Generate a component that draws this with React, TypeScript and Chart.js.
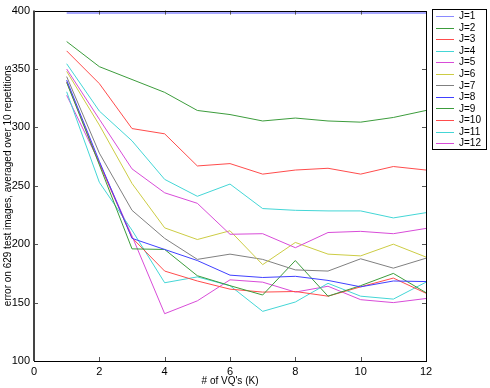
import React, { useEffect, useRef } from "react";
import { Chart, registerables } from "chart.js";

Chart.register(...registerables);

const kValues = [1, 2, 3, 4, 5, 6, 7, 8, 9, 10, 11, 12];
const seriesLabels = ["J=1", "J=2", "J=3", "J=4", "J=5", "J=6", "J=7", "J=8", "J=9", "J=10", "J=11", "J=12"];
const j1 = [398, 398, 398, 398, 398, 398, 398, 398, 398, 398, 398, 398];
const j2 = [373.5, 352, 341, 330, 314.5, 311, 305.5, 308, 305.5, 304.5, 308.5, 314.5];
const j3 = [365.5, 337.5, 299, 294.5, 267, 269, 260, 263.5, 265, 260, 266.5, 263.5];
const j4 = [354.5, 314, 288.5, 255.5, 241, 251.5, 230.5, 229, 228.5, 228.5, 222.5, 227];
const j5 = [350, 307, 264.5, 244, 235, 208.5, 209, 197, 210, 211, 209, 213.5];
const j6 = [348, 302, 252, 214, 204, 211.5, 182.5, 201.5, 191.5, 190, 200, 189];
const j7 = [343.5, 278, 229, 205, 187, 191.5, 187, 178, 177, 187.5, 179.5, 188];
const j8 = [340.5, 271, 205, 195.5, 186, 173.5, 171.5, 172.5, 169, 163.5, 168.5, 168];
const j9 = [338.5, 268, 196, 195.5, 173, 164.5, 156.5, 186, 155.5, 164.5, 175, 158.5];
const j10 = [339, 269, 205.5, 177, 168.5, 161.5, 159, 159.5, 155.5, 163.5, 171, 158];
const j11 = [330.5, 253, 212, 167, 172, 164.5, 142.5, 150.5, 166.5, 155.5, 153, 167.5];
const j12 = [327.5, 270, 207, 140.5, 151.5, 169.5, 167.5, 159, 164, 152.5, 150, 153.5];
const seriesValues = [j1, j2, j3, j4, j5, j6, j7, j8, j9, j10, j11, j12];
const xTicks = [0, 2, 4, 6, 8, 10, 12];
const yTicks = [100, 150, 200, 250, 300, 350, 400];

const seriesColors = [
  "#8a8aff", "#3c9c3c", "#ff4c4c", "#44d6d6", "#d84cd8", "#cccc44",
  "#808080", "#4040ff", "#3c9c3c", "#ff4c4c", "#44d6d6", "#d84cd8",
];
const FONT = "'Liberation Sans', Arial, Helvetica, sans-serif";

const framePlugin = {
  id: "frame",
  afterDatasetsDraw(chart: any) {
    const { ctx, chartArea: a, scales } = chart;
    const xs = scales.x;
    const ys = scales.y;
    ctx.save();
    ctx.strokeStyle = "#555";
    ctx.lineWidth = 1;
    ctx.beginPath();
    xTicks.forEach((v) => {
      if (v === 0 || v === 12) return;
      const px = Math.round(xs.getPixelForValue(v)) + 0.5;
      ctx.moveTo(px, a.bottom);
      ctx.lineTo(px, a.bottom - 4);
      ctx.moveTo(px, a.top);
      ctx.lineTo(px, a.top + 4);
    });
    yTicks.forEach((v) => {
      if (v === 100 || v === 400) return;
      const py = Math.round(ys.getPixelForValue(v)) + 0.5;
      ctx.moveTo(a.left, py);
      ctx.lineTo(a.left + 4, py);
      ctx.moveTo(a.right, py);
      ctx.lineTo(a.right - 4, py);
    });
    ctx.stroke();
    ctx.strokeStyle = "#000";
    ctx.strokeRect(Math.round(a.left) + 0.5, Math.round(a.top) + 0.5, Math.round(a.right - a.left), Math.round(a.bottom - a.top));
    ctx.strokeStyle = "#444";
    ctx.lineWidth = 2;
    ctx.beginPath();
    ctx.moveTo(Math.round(a.left), a.top);
    ctx.lineTo(Math.round(a.left), a.bottom);
    ctx.stroke();

    // legend
    const lx = 432, ly = 9, lw = 54, lh = 140;
    ctx.fillStyle = "#fff";
    ctx.fillRect(lx, ly, lw, lh);
    ctx.strokeStyle = "#000";
    ctx.lineWidth = 1;
    ctx.strokeRect(lx + 0.5, ly + 0.5, lw, lh);
    ctx.font = `10px ${FONT}`;
    ctx.textBaseline = "middle";
    ctx.textAlign = "left";
    seriesLabels.forEach((label, i) => {
      const y = 16 + i * 11.55;
      ctx.strokeStyle = seriesColors[i];
      ctx.lineWidth = 1;
      ctx.beginPath();
      ctx.moveTo(436, Math.round(y) + 0.5);
      ctx.lineTo(454, Math.round(y) + 0.5);
      ctx.stroke();
      ctx.fillStyle = "#000";
      ctx.fillText(label, 459, y + 0.5);
    });
    ctx.restore();
  },
};

export default function App() {
  const ref = useRef<HTMLCanvasElement>(null);
  useEffect(() => {
    if (!ref.current) return;
    const chart = new Chart(ref.current, {
      type: "line",
      data: {
        datasets: seriesLabels.map((label, i) => ({
          label,
          data: kValues.map((k, j) => ({ x: k, y: seriesValues[i][j] })),
          borderColor: seriesColors[i],
          backgroundColor: seriesColors[i],
          borderWidth: i === 0 ? 1.5 : 1,
          pointRadius: 0,
          tension: 0,
          fill: false,
        })),
      },
      options: {
        animation: false,
        responsive: false,
        devicePixelRatio: 1,
        layout: { padding: { left: 0, right: 64, top: 9, bottom: 0 } },
        plugins: { legend: { display: false }, tooltip: { enabled: false } },
        scales: {
          x: {
            type: "linear",
            min: 0,
            max: 12,
            afterFit: (s: any) => { s.height = 27; },
            afterBuildTicks: (s: any) => { s.ticks = xTicks.map((v) => ({ value: v })); },
            ticks: { color: "#000", padding: 4, maxRotation: 0, font: { family: FONT, size: 11 } },
            grid: { display: true, drawOnChartArea: false, drawTicks: false },
            border: { display: false },
            title: { display: true, text: "# of VQ's (K)", color: "#000", padding: { top: 0, bottom: 1 }, font: { family: FONT, size: 10 } },
          },
          y: {
            type: "linear",
            min: 100,
            max: 400,
            afterFit: (s: any) => { s.width = 34; },
            afterBuildTicks: (s: any) => { s.ticks = yTicks.map((v) => ({ value: v })); },
            ticks: { color: "#000", padding: 4, font: { family: FONT, size: 11 } },
            grid: { display: true, drawOnChartArea: false, drawTicks: false },
            border: { display: false },
            title: { display: true, text: "error on 629 test images, averaged over 10 repetitions", color: "#000", padding: { top: 2, bottom: 0 }, font: { family: FONT, size: 10 } },
          },
        },
      },
      plugins: [framePlugin],
    });
    return () => chart.destroy();
  }, []);
  return (
    <div style={{ position: "fixed", left: 0, top: 0, width: 490, height: 388, background: "#fff" }}>
      <canvas ref={ref} width={490} height={388} style={{ display: "block" }} />
    </div>
  );
}
